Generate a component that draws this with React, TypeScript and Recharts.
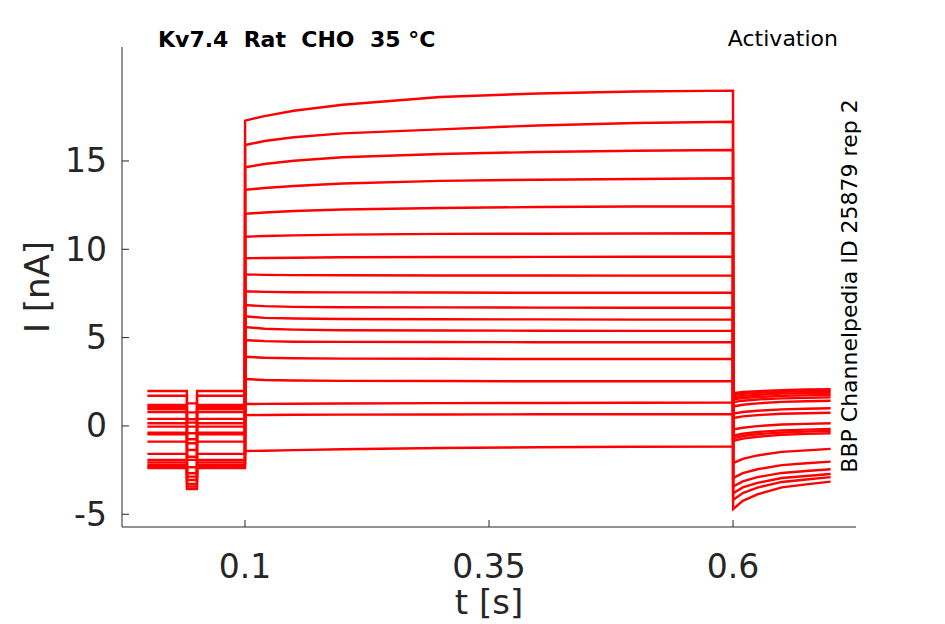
import React from "react";
import { LineChart, Line, XAxis, YAxis } from "recharts";

// sweep timing (s)
const preTimes = [0, 0.0405];
const dipTimes = [0.0406, 0.0508];
const postTimes = [0.0509, 0.1];
const stepTimes = [0.1001, 0.12, 0.15, 0.2, 0.3, 0.4, 0.5, 0.6];
const tailTimes = [0.6001, 0.61, 0.625, 0.65, 0.675, 0.7];

// current levels (nA), one entry per sweep
const holding = [
  -2.22, 1.19, -0.38, 0.95, -2.38, 0.15, 1.98, -1.58, 0.79, -2.07, 1.06,
  -0.47, -1.92, 0.4, 1.71, -0.89, -2.3, -0.04,
];
const dip = [
  -3.28, 0.38, -1.74, -0.04, -3.57, -0.98, 1.28, -2.68, -0.41, -3.06, 0.19,
  -1.92, -2.87, -0.75, 0.77, -2.34, -3.43, -1.36,
];
const step = [
  [17.28, 17.54, 17.84, 18.18, 18.62, 18.82, 18.93, 18.98],
  [15.9, 16.13, 16.34, 16.56, 16.79, 17.01, 17.15, 17.22],
  [14.64, 14.83, 15.01, 15.21, 15.39, 15.51, 15.58, 15.62],
  [13.36, 13.47, 13.58, 13.72, 13.87, 13.94, 13.98, 14.02],
  [12.01, 12.08, 12.17, 12.25, 12.34, 12.39, 12.42, 12.43],
  [10.71, 10.75, 10.79, 10.83, 10.87, 10.88, 10.89, 10.91],
  [9.49, 9.51, 9.52, 9.55, 9.56, 9.57, 9.58, 9.58],
  [8.58, 8.55, 8.54, 8.53, 8.52, 8.52, 8.51, 8.51],
  [7.62, 7.59, 7.57, 7.56, 7.55, 7.54, 7.54, 7.54],
  [6.84, 6.78, 6.74, 6.72, 6.71, 6.7, 6.69, 6.69],
  [6.2, 6.12, 6.08, 6.05, 6.04, 6.03, 6.02, 6.02],
  [5.6, 5.5, 5.45, 5.42, 5.4, 5.39, 5.38, 5.38],
  [4.86, 4.8, 4.77, 4.76, 4.75, 4.74, 4.74, 4.74],
  [3.92, 3.86, 3.83, 3.81, 3.8, 3.79, 3.79, 3.79],
  [2.66, 2.6, 2.57, 2.55, 2.54, 2.53, 2.53, 2.53],
  [1.24, 1.25, 1.26, 1.27, 1.29, 1.3, 1.31, 1.32],
  [0.61, 0.62, 0.63, 0.64, 0.65, 0.66, 0.66, 0.66],
  [-1.42, -1.4, -1.37, -1.32, -1.25, -1.21, -1.18, -1.17],
];
const tail = [
  [-4.71, -4.24, -3.87, -3.48, -3.31, -3.15],
  [-4.19, -3.8, -3.49, -3.17, -3.03, -2.9],
  [-3.81, -3.48, -3.22, -2.95, -2.83, -2.72],
  [-3.43, -3.14, -2.9, -2.66, -2.55, -2.45],
  [-2.95, -2.67, -2.45, -2.22, -2.11, -2.02],
  [-2.1, -1.86, -1.67, -1.47, -1.38, -1.3],
  [-0.85, -0.72, -0.61, -0.5, -0.45, -0.41],
  [-0.7, -0.57, -0.47, -0.37, -0.32, -0.28],
  [-0.55, -0.44, -0.34, -0.25, -0.21, -0.17],
  [-0.2, -0.1, -0.01, 0.08, 0.12, 0.15],
  [0.45, 0.54, 0.61, 0.69, 0.72, 0.75],
  [0.7, 0.79, 0.86, 0.94, 0.97, 1.0],
  [1.1, 1.2, 1.28, 1.36, 1.4, 1.43],
  [1.35, 1.43, 1.5, 1.56, 1.59, 1.62],
  [1.5, 1.58, 1.64, 1.7, 1.73, 1.75],
  [1.62, 1.7, 1.76, 1.83, 1.85, 1.88],
  [1.75, 1.82, 1.87, 1.93, 1.96, 1.98],
  [1.85, 1.92, 1.97, 2.03, 2.06, 2.08],
];

const xTicks = [0.1, 0.35, 0.6];
const yTicks = [-5, 0, 5, 10, 15];

const traces = holding.map((h, i) => [
  ...preTimes.map((t) => ({ t, i: h })),
  ...dipTimes.map((t) => ({ t, i: dip[i] })),
  ...postTimes.map((t) => ({ t, i: h })),
  ...stepTimes.map((t, j) => ({ t, i: step[i][j] })),
  ...tailTimes.map((t, j) => ({ t, i: tail[i][j] })),
]);

const FONT = "DejaVu Sans";
const INK = "#262626";

const YTick = (props: any) => {
  const { x, y, payload } = props;
  return (
    <g>
      <line x1={x} x2={x + 7} y1={y} y2={y} stroke={INK} />
      <text
        x={x - 15}
        y={y}
        textAnchor="end"
        dominantBaseline="central"
        fontFamily={FONT}
        fontSize={33}
        fill={INK}
      >
        {payload.value}
      </text>
    </g>
  );
};

const XTick = (props: any) => {
  const { x, y, payload } = props;
  return (
    <g>
      <line x1={x} x2={x} y1={y} y2={y - 7} stroke={INK} />
      <text
        x={x}
        y={y + 39}
        textAnchor="middle"
        dominantBaseline="central"
        fontFamily={FONT}
        fontSize={33}
        fill={INK}
      >
        {payload.value}
      </text>
    </g>
  );
};

export default function App() {
  return (
    <div
      style={{
        position: "absolute",
        left: 0,
        top: 0,
        width: 945,
        height: 624,
        background: "#fff",
      }}
    >
      <LineChart
        width={945}
        height={624}
        margin={{ top: 47, right: 89, bottom: 37, left: 62 }}
      >
        <XAxis
          type="number"
          dataKey="t"
          domain={[-0.026, 0.726]}
          allowDataOverflow
          ticks={xTicks}
          tick={<XTick />}
          tickSize={0}
          tickMargin={0}
          tickLine={false}
          height={60}
          axisLine={{ stroke: INK }}
        />
        <YAxis
          type="number"
          domain={[-5.72, 21.45]}
          allowDataOverflow
          ticks={yTicks}
          tick={<YTick />}
          tickSize={0}
          tickMargin={0}
          tickLine={false}
          width={60}
          axisLine={{ stroke: INK }}
        />
        {traces.map((d, k) => (
          <Line
            key={k}
            data={d}
            dataKey="i"
            type="linear"
            stroke="#ff0000"
            strokeWidth={2.4}
            dot={false}
            activeDot={false}
            isAnimationActive={false}
          />
        ))}
      </LineChart>
      <svg
        width={945}
        height={624}
        style={{ position: "absolute", left: 0, top: 0, pointerEvents: "none" }}
      >
        <text
          x={158}
          y={47}
          fontFamily={FONT}
          fontWeight="bold"
          fontSize={22}
          fill="#000"
          style={{ whiteSpace: "pre" }}
        >
          {"Kv7.4  Rat  CHO  35 °C"}
        </text>
        <text x={838} y={46} textAnchor="end" fontFamily={FONT} fontSize={22} fill="#000">
          Activation
        </text>
        <text
          transform="translate(857, 286) rotate(-90)"
          textAnchor="middle"
          fontFamily={FONT}
          fontSize={22}
          fill="#000"
        >
          BBP Channelpedia ID 25879 rep 2
        </text>
        <text
          transform="translate(49, 287) rotate(-90)"
          textAnchor="middle"
          fontFamily={FONT}
          fontSize={34}
          fill={INK}
        >
          I [nA]
        </text>
        <text x={489} y={614} textAnchor="middle" fontFamily={FONT} fontSize={34} fill={INK}>
          t [s]
        </text>
      </svg>
    </div>
  );
}
